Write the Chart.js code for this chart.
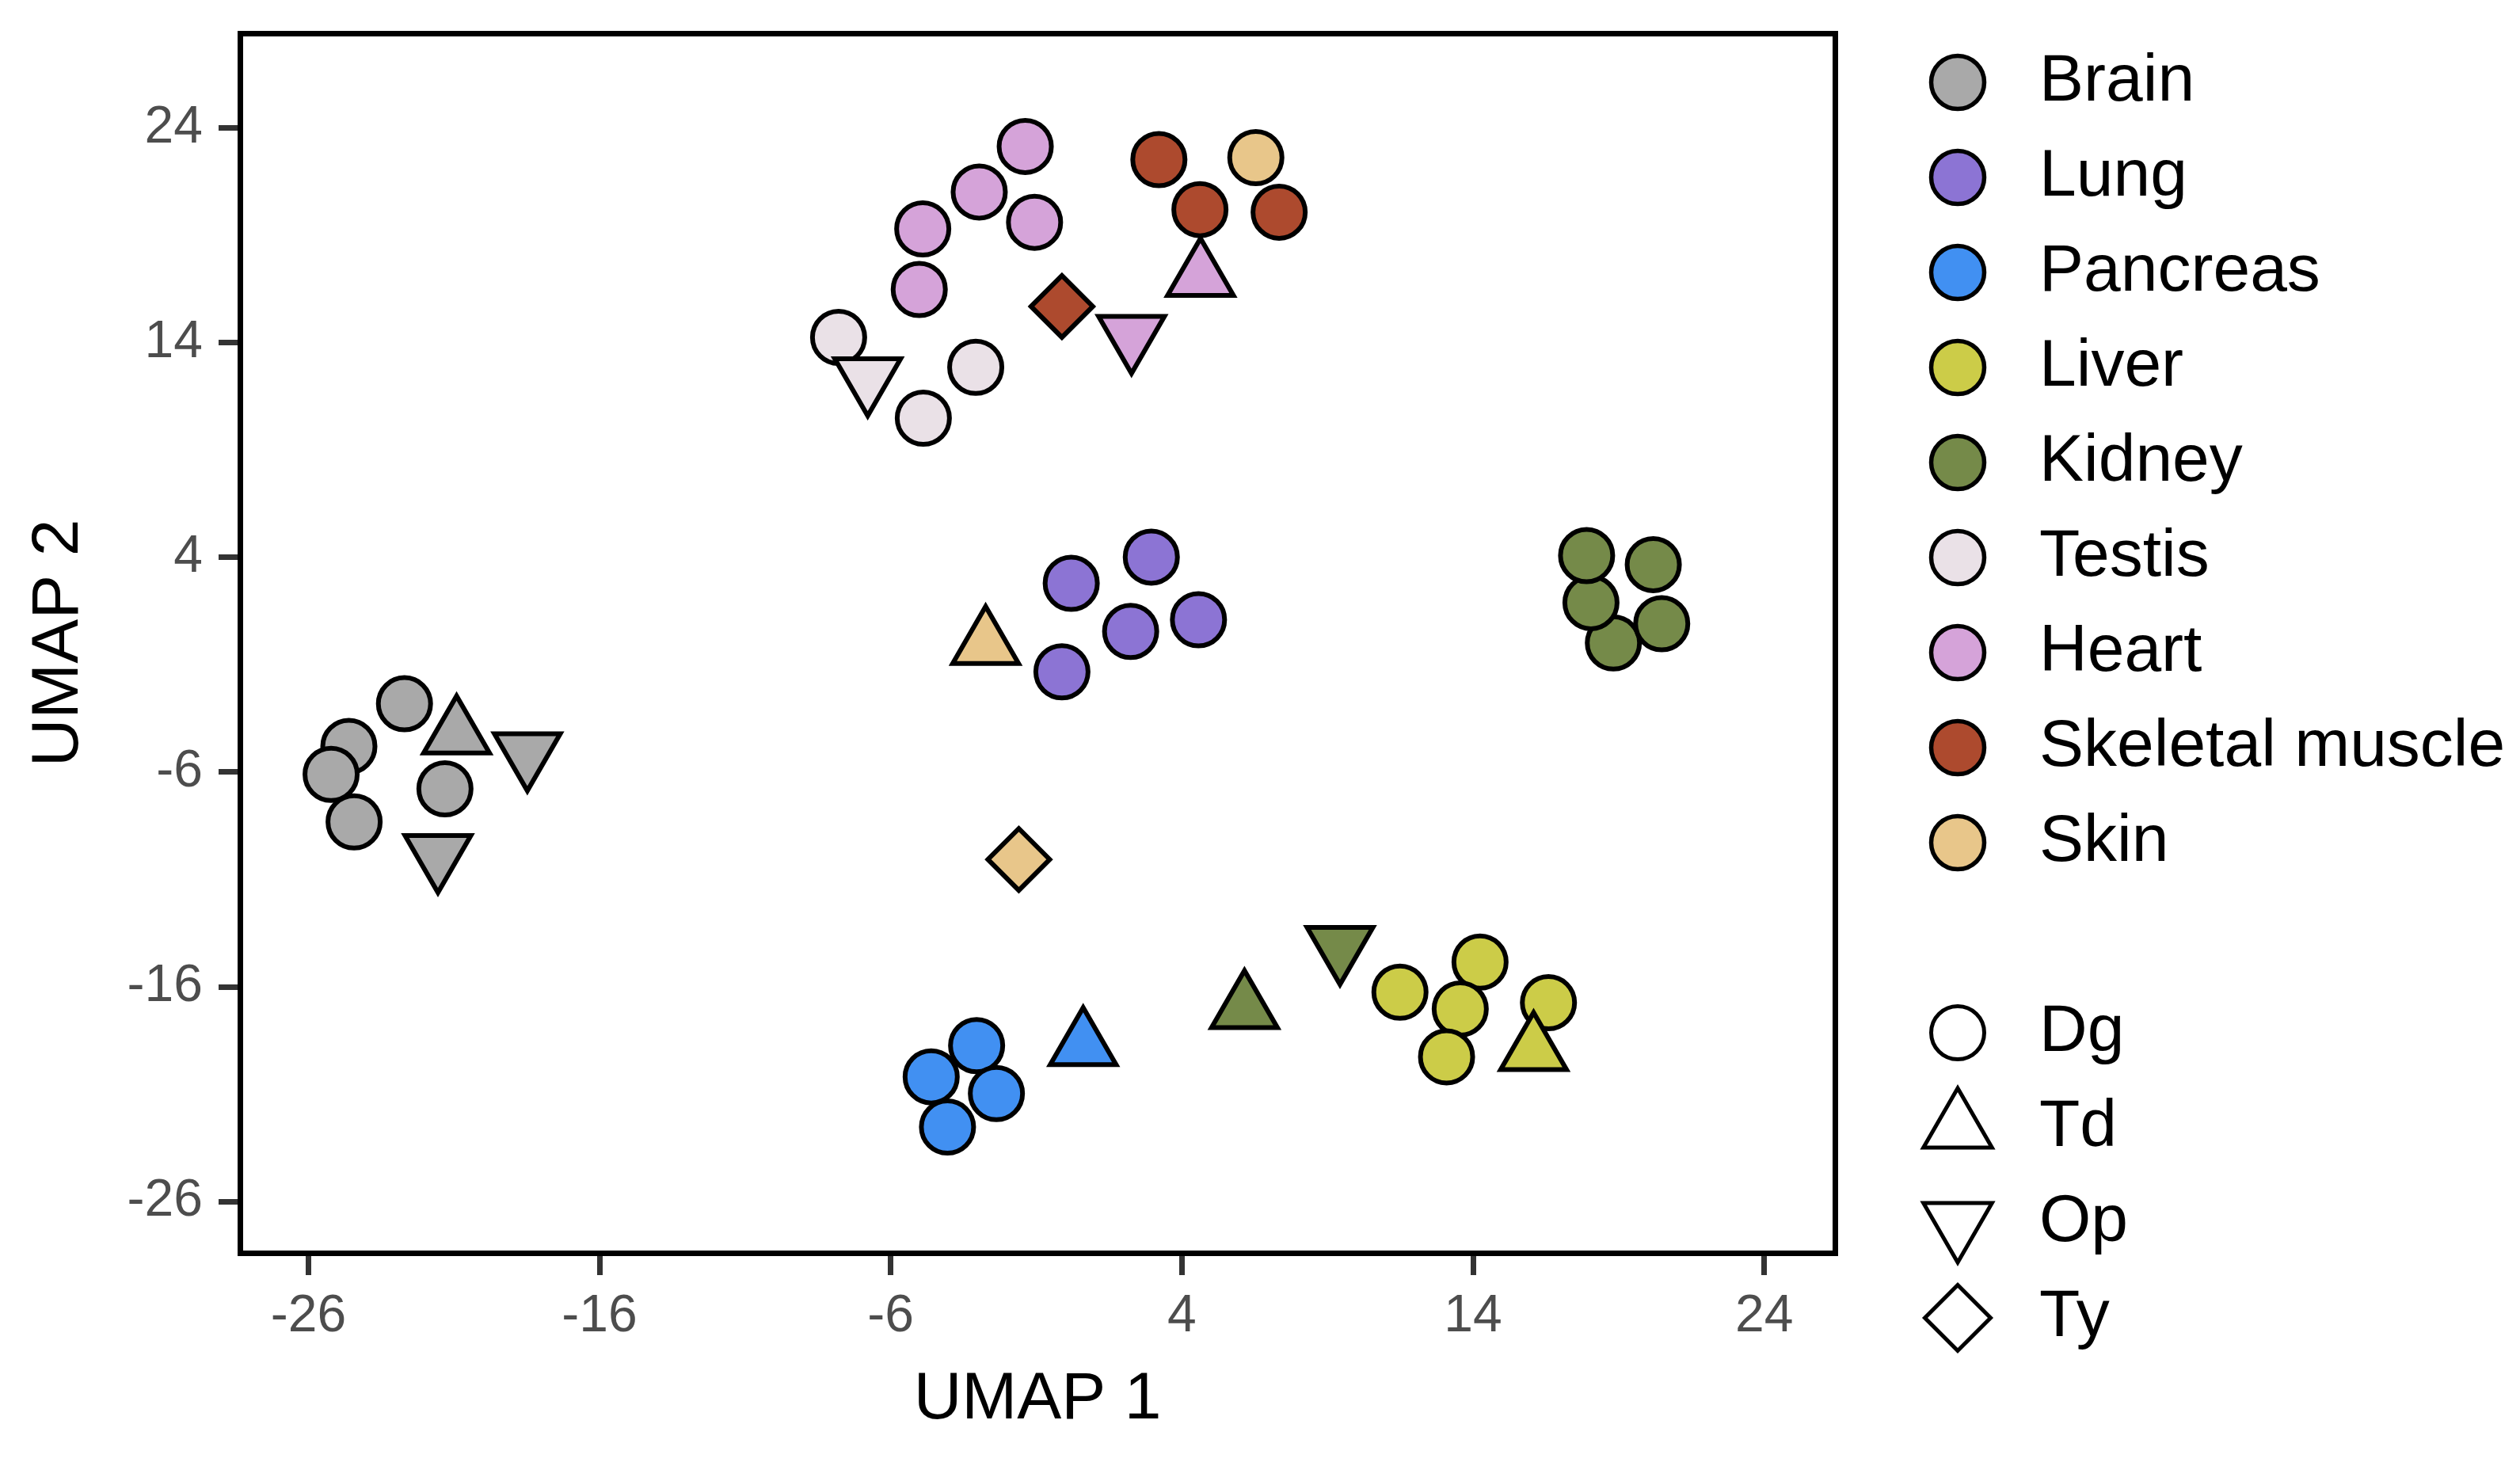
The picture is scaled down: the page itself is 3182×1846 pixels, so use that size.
<!DOCTYPE html>
<html>
<head>
<meta charset="utf-8">
<title>UMAP</title>
<script src="https://cdn.jsdelivr.net/npm/chart.js@4.4.1/dist/chart.umd.min.js"></script>
<style>
    html, body { margin: 0; padding: 0; background: #ffffff; }
    #umap { display: block; }
</style>
</head>
<body>
<canvas id="umap" width="3182" height="1846"></canvas>
<script>

const tissues = ["Brain", "Lung", "Pancreas", "Liver", "Kidney", "Testis", "Heart", "Skeletal muscle", "Skin"];
const tissueColors = ["#A9A9A9", "#8C74D4", "#4190F2", "#CCCC48", "#758A49", "#EAE1E7", "#D5A3D9", "#AD4A2E", "#E8C68A"];
const methods = ["Dg", "Td", "Op", "Ty"];

const brainX = [-22.70, -24.61, -25.22, -21.31, -24.43, -20.91, -18.48, -21.55];
const brainY = [-2.82, -4.81, -6.11, -6.78, -8.32, -4.23, -5.10, -9.84];
const brainMethod = ["Dg", "Dg", "Dg", "Dg", "Dg", "Td", "Op", "Op"];

const lungX = [2.95, 0.20, 4.57, 2.24, -0.12];
const lungY = [4.01, 2.79, 1.09, 0.55, -1.33];
const lungMethod = ["Dg", "Dg", "Dg", "Dg", "Dg"];

const pancreasX = [-3.05, -4.61, -2.37, -4.05, 0.61];
const pancreasY = [-18.74, -20.19, -20.97, -22.53, -18.74];
const pancreasMethod = ["Dg", "Dg", "Dg", "Dg", "Td"];

const liverX = [11.49, 14.24, 13.56, 16.59, 13.09, 16.08];
const liverY = [-16.25, -14.85, -17.03, -16.74, -19.26, -18.97];
const liverMethod = ["Dg", "Dg", "Dg", "Dg", "Dg", "Td"];

const kidneyX = [18.82, 20.48, 18.05, 17.90, 20.19, 6.15, 9.43];
const kidneyY = [0.01, 0.91, 1.89, 4.08, 3.66, -17.01, -14.12];
const kidneyMethod = ["Dg", "Dg", "Dg", "Dg", "Dg", "Td", "Op"];

const testisX = [-7.79, -3.08, -4.88, -6.79];
const testisY = [14.24, 12.85, 10.48, 12.36];
const testisMethod = ["Dg", "Dg", "Dg", "Op"];

const heartX = [-1.38, -2.96, -1.06, -4.90, -5.02, 4.64, 2.27];
const heartY = [23.13, 21.01, 19.60, 19.29, 16.47, 17.08, 14.33];
const heartMethod = ["Dg", "Dg", "Dg", "Dg", "Dg", "Td", "Op"];

const muscleX = [3.21, 4.62, 7.34, -0.12];
const muscleY = [22.52, 20.19, 20.07, 15.68];
const muscleMethod = ["Dg", "Dg", "Dg", "Ty"];

const skinX = [6.54, -2.74, -1.60];
const skinY = [22.61, -0.06, -10.07];
const skinMethod = ["Dg", "Td", "Ty"];

const xTicks = [-26, -16, -6, 4, 14, 24];
const yTicks = [-26, -16, -6, 4, 14, 24];
const xRange = [-28.35, 26.43];
const yRange = [-28.39, 28.40];

const tissuePoints = [
    [brainX, brainY, brainMethod],
    [lungX, lungY, lungMethod],
    [pancreasX, pancreasY, pancreasMethod],
    [liverX, liverY, liverMethod],
    [kidneyX, kidneyY, kidneyMethod],
    [testisX, testisY, testisMethod],
    [heartX, heartY, heartMethod],
    [muscleX, muscleY, muscleMethod],
    [skinX, skinY, skinMethod]
];

// ggplot shapes 21 / 24 / 25 / 23
const methodMarkers = {
    Dg: { style: "circle", radius: 33, rotation: 0 },
    Td: { style: "triangle", radius: 48, rotation: 0 },
    Op: { style: "triangle", radius: 48, rotation: 180 },
    Ty: { style: "rectRot", radius: 39, rotation: 0 }
};

Chart.defaults.font.family = '"Liberation Sans", Arial, Helvetica, sans-serif';

function buildDatasets() {

    // the first dataset is drawn on top, so the circles go last
    return methods.slice().reverse().map(method => {

        const points = [];
        const colors = [];

        tissuePoints.forEach((t, ti) => {
            t[2].forEach((m, i) => {
                if (m !== method) return;
                points.push({ x: t[0][i], y: t[1][i] });
                colors.push(tissueColors[ti]);
            });
        });

        const marker = methodMarkers[method];

        return {
            label: method,
            data: points,
            xAxisID: "x",
            yAxisID: "y",
            pointStyle: marker.style,
            pointRadius: marker.radius,
            pointHoverRadius: marker.radius,
            pointRotation: marker.rotation,
            pointBackgroundColor: colors,
            pointBorderColor: "#000000",
            pointBorderWidth: 6,
            pointHoverBorderWidth: 6
        };

    });

}

function markerImage(style, radius, rotation, fill, lineWidth) {

    const c = document.createElement("canvas");
    c.width = 150;
    c.height = 150;

    const ctx = c.getContext("2d");
    ctx.fillStyle = fill;
    ctx.strokeStyle = "#000000";
    ctx.lineWidth = lineWidth;

    Chart.helpers.drawPoint(ctx, {
        pointStyle: style,
        radius: radius,
        rotation: rotation,
        borderWidth: lineWidth
    }, 75, 75);

    return c;

}

function legendLabels() {

    const items = tissues.map((t, i) => ({
        text: t,
        pointStyle: markerImage("circle", 33.5, 0, tissueColors[i], 5.5),
        fillStyle: tissueColors[i],
        strokeStyle: "#000000",
        lineWidth: 0,
        hidden: false
    }));

    // empty row between the two keys
    const blank = document.createElement("canvas");
    blank.width = 1;
    blank.height = 1;

    items.push({
        text: "",
        pointStyle: blank,
        fillStyle: "rgba(0,0,0,0)",
        strokeStyle: "rgba(0,0,0,0)",
        lineWidth: 0,
        hidden: false
    });

    const legendSize = { Dg: 33.5, Td: 50, Op: 50, Ty: 41.5 };

    methods.forEach(m => {
        const mk = methodMarkers[m];
        items.push({
            text: m,
            pointStyle: markerImage(mk.style, legendSize[m], mk.rotation, "rgba(255,255,255,0)", 5),
            fillStyle: "rgba(0,0,0,0)",
            strokeStyle: "#000000",
            lineWidth: 0,
            hidden: false
        });
    });

    return items;

}

const legendWidth = {
    id: "legendWidth",
    beforeInit(chart) {
        const fit = chart.legend.fit;
        chart.legend.fit = function () {
            fit.call(this);
            this.width = 807;
        };
    }
};

// stop the tick labels from pushing the panel inwards
function noPad(s) {
    s.paddingTop = 0;
    s.paddingBottom = 0;
    s.paddingLeft = 0;
    s.paddingRight = 0;
}

const tickGrid = {
    display: true,
    drawOnChartArea: false,
    drawTicks: true,
    tickWidth: 7,
    tickColor: "#333333",
    lineWidth: 7
};

const frame = { display: true, color: "#000000", width: 7 };

new Chart(document.getElementById("umap").getContext("2d"), {

    type: "scatter",

    data: { datasets: buildDatasets() },

    options: {

        responsive: false,
        animation: false,
        devicePixelRatio: 1,
        events: [],

        layout: {
            autoPadding: false,
            padding: { top: 26, right: 0, bottom: 0, left: 0 }
        },

        plugins: {
            tooltip: { enabled: false },
            legend: {
                position: "right",
                align: "start",
                onClick: null,
                labels: {
                    usePointStyle: true,
                    pointStyleWidth: 122,
                    padding: 36,
                    color: "#000000",
                    font: { size: 84 },
                    generateLabels: legendLabels
                }
            }
        },

        scales: {

            x: {
                type: "linear",
                position: "bottom",
                min: xRange[0],
                max: xRange[1],
                afterBuildTicks: s => { s.ticks = xTicks.map(v => ({ value: v })); },
                afterFit: s => { s.height = 264; noPad(s); },
                grid: Object.assign({}, tickGrid, { tickLength: 28 }),
                border: frame,
                ticks: { color: "#4D4D4D", font: { size: 66 }, padding: 13, autoSkip: false, maxRotation: 0 },
                title: { display: true, text: "UMAP 1", color: "#000000", font: { size: 84 }, padding: { top: 0, bottom: 28 } }
            },

            y: {
                type: "linear",
                position: "left",
                min: yRange[0],
                max: yRange[1],
                afterBuildTicks: s => { s.ticks = yTicks.map(v => ({ value: v })); },
                afterFit: s => { s.width = 303; noPad(s); },
                grid: Object.assign({}, tickGrid, { tickLength: 27 }),
                border: frame,
                ticks: { color: "#4D4D4D", font: { size: 66 }, padding: 20, autoSkip: false },
                title: { display: true, text: "UMAP 2", color: "#000000", font: { size: 84 }, padding: { top: 24, bottom: 0 } }
            },

            // top and right sides of the panel box
            xTop: {
                type: "linear",
                position: "top",
                min: 0,
                max: 1,
                afterFit: s => { s.height = 16; noPad(s); },
                grid: { display: false, lineWidth: 7 },
                border: frame,
                ticks: { display: false }
            },

            yRight: {
                type: "linear",
                position: "right",
                min: 0,
                max: 1,
                afterFit: s => { s.width = 58; noPad(s); },
                grid: { display: false, lineWidth: 7 },
                border: frame,
                ticks: { display: false }
            }

        }

    },

    plugins: [legendWidth]

});

</script>
</body>
</html>
